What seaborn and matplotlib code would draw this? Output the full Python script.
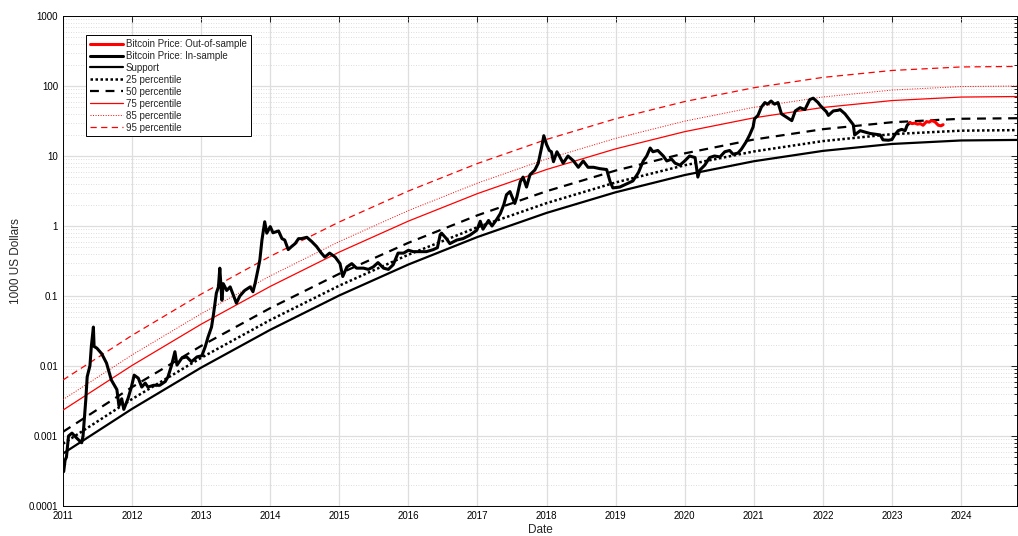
import matplotlib
matplotlib.use("Agg")
import matplotlib.pyplot as plt
import seaborn as sns
from matplotlib.ticker import FixedLocator, LogLocator, FuncFormatter, NullFormatter

# ---------------- data ----------------
in_years = [2011.01, 2011.03, 2011.05, 2011.07, 2011.08, 2011.13, 2011.17, 2011.20, 2011.27, 2011.29,
            2011.33, 2011.35, 2011.39, 2011.41, 2011.44, 2011.45, 2011.49, 2011.56, 2011.63, 2011.70,
            2011.78, 2011.81, 2011.85, 2011.88, 2011.94, 2011.99, 2012.03, 2012.09, 2012.14, 2012.19,
            2012.23, 2012.31, 2012.40, 2012.48, 2012.52, 2012.57, 2012.62, 2012.65, 2012.72, 2012.79,
            2012.86, 2012.94, 2013.01, 2013.06, 2013.10, 2013.15, 2013.18, 2013.22, 2013.25, 2013.27,
            2013.30, 2013.32, 2013.37, 2013.42, 2013.47, 2013.51, 2013.56, 2013.63, 2013.71, 2013.75,
            2013.78, 2013.83, 2013.85, 2013.88, 2013.92, 2013.95, 2014.00, 2014.04, 2014.12, 2014.17,
            2014.21, 2014.26, 2014.31, 2014.36, 2014.41, 2014.45, 2014.53, 2014.60, 2014.67, 2014.74,
            2014.79, 2014.86, 2014.94, 2015.01, 2015.05, 2015.11, 2015.18, 2015.25, 2015.35, 2015.42,
            2015.49, 2015.56, 2015.64, 2015.71, 2015.78, 2015.85, 2015.93, 2016.00, 2016.07, 2016.17,
            2016.26, 2016.36, 2016.42, 2016.46, 2016.48, 2016.55, 2016.60, 2016.70, 2016.79, 2016.89,
            2016.99, 2017.04, 2017.08, 2017.16, 2017.21, 2017.28, 2017.33, 2017.38, 2017.42, 2017.47,
            2017.54, 2017.57, 2017.62, 2017.66, 2017.71, 2017.76, 2017.83, 2017.88, 2017.93, 2017.96,
            2018.00, 2018.04, 2018.07, 2018.10, 2018.15, 2018.19, 2018.24, 2018.31, 2018.39, 2018.46,
            2018.53, 2018.60, 2018.68, 2018.77, 2018.87, 2018.92, 2018.96, 2019.06, 2019.16, 2019.25,
            2019.33, 2019.40, 2019.45, 2019.50, 2019.54, 2019.61, 2019.69, 2019.74, 2019.81, 2019.86,
            2019.93, 2020.00, 2020.07, 2020.15, 2020.19, 2020.22, 2020.29, 2020.36, 2020.43, 2020.51,
            2020.58, 2020.65, 2020.70, 2020.77, 2020.82, 2020.89, 2020.94, 2020.99, 2021.01, 2021.06,
            2021.11, 2021.16, 2021.20, 2021.25, 2021.30, 2021.35, 2021.40, 2021.47, 2021.55, 2021.60,
            2021.67, 2021.74, 2021.81, 2021.86, 2021.93, 2021.96, 2022.01, 2022.05, 2022.08, 2022.15,
            2022.22, 2022.25, 2022.32, 2022.37, 2022.44, 2022.46, 2022.54, 2022.61, 2022.68, 2022.75,
            2022.83, 2022.87, 2022.95, 2023.00, 2023.04, 2023.09, 2023.14, 2023.19, 2023.22, 2023.26]
in_price = [0.00031, 0.00045, 0.0005, 0.0008, 0.001, 0.0011, 0.001, 0.00093, 0.0008, 0.001,
            0.0033, 0.007, 0.0101, 0.019, 0.036, 0.019, 0.018, 0.015, 0.011, 0.0063,
            0.0046, 0.0027, 0.0034, 0.0024, 0.0034, 0.005, 0.0074, 0.0067, 0.005, 0.0057,
            0.005, 0.0053, 0.0053, 0.006, 0.007, 0.0101, 0.016, 0.0103, 0.013, 0.0135,
            0.0115, 0.0135, 0.014, 0.019, 0.026, 0.036, 0.056, 0.11, 0.135, 0.25,
            0.087, 0.15, 0.12, 0.135, 0.10, 0.079, 0.10, 0.12, 0.135, 0.115,
            0.15, 0.26, 0.33, 0.63, 1.15, 0.79, 0.98, 0.80, 0.85, 0.66,
            0.63, 0.46, 0.51, 0.56, 0.66, 0.66, 0.69, 0.60, 0.51, 0.41,
            0.36, 0.41, 0.36, 0.29, 0.19, 0.26, 0.29, 0.25, 0.25, 0.24,
            0.26, 0.30, 0.25, 0.24, 0.28, 0.41, 0.41, 0.45, 0.43, 0.43,
            0.43, 0.46, 0.49, 0.75, 0.79, 0.66, 0.56, 0.63, 0.66, 0.74,
            0.87, 1.17, 0.90, 1.20, 1.00, 1.25, 1.50, 2.00, 2.80, 3.10,
            2.10, 2.60, 4.30, 5.00, 3.60, 5.40, 6.30, 7.90, 13.5, 19.5,
            14.6, 12.0, 11.5, 8.3, 11.5, 9.8, 7.9, 10.0, 8.5, 6.9,
            8.5, 6.9, 6.9, 6.6, 6.4, 4.3, 3.5, 3.6, 4.0, 4.4,
            5.8, 8.5, 10.0, 13.0, 11.5, 12.0, 10.0, 8.5, 9.0, 7.9,
            7.4, 8.5, 10.0, 9.5, 5.0, 6.3, 7.4, 9.5, 10.0, 9.7,
            11.5, 12.0, 10.6, 11.0, 12.5, 16.0, 20.0, 26.0, 34.0, 38.0,
            50.0, 58.0, 55.0, 61.0, 55.0, 58.0, 40.0, 36.0, 32.0, 44.0,
            49.0, 46.0, 64.0, 67.0, 58.0, 53.0, 47.0, 43.0, 38.0, 44.0,
            45.0, 46.0, 40.0, 34.5, 28.0, 20.0, 23.0, 22.0, 21.0, 20.5,
            20.0, 17.0, 16.8, 17.2, 20.0, 23.0, 24.0, 23.0, 27.5, 30.0]

out_years = [2023.26, 2023.29, 2023.33, 2023.37, 2023.41, 2023.45, 2023.50, 2023.54, 2023.57,
             2023.62, 2023.67, 2023.71, 2023.74]
out_price = [30.0, 29.0, 29.5, 28.5, 29.0, 27.5, 31.0, 30.5, 32.0, 31.0, 27.5, 27.0, 28.0]

curve_years = [2011, 2012, 2013, 2014, 2015, 2016, 2017, 2018, 2019, 2020, 2021, 2022, 2023, 2024, 2024.85]
support = [0.000562, 0.002443, 0.009484, 0.03289, 0.1019, 0.2818, 0.6966, 1.538, 3.034, 5.346,
           8.414, 11.83, 14.86, 16.67, 16.98]
pct25 = [0.000776, 0.003373, 0.01309, 0.04539, 0.1406, 0.3890, 0.9616, 2.123, 4.188, 7.379,
         11.61, 16.33, 20.51, 23.01, 23.44]
pct50 = [0.001148, 0.004989, 0.01936, 0.06714, 0.2080, 0.5754, 1.422, 3.141, 6.194, 10.91,
         17.18, 24.15, 30.34, 34.04, 34.67]
pct75 = [0.002344, 0.01019, 0.03954, 0.1371, 0.4246, 1.175, 2.904, 6.412, 12.65, 22.28,
         35.08, 49.32, 61.94, 69.50, 70.79]
pct85 = [0.003311, 0.01439, 0.05585, 0.1936, 0.5998, 1.660, 4.102, 9.057, 17.86, 31.48,
         49.55, 69.66, 87.50, 98.17, 100.0]
pct95 = [0.006310, 0.02742, 0.1064, 0.3690, 1.143, 3.162, 7.816, 17.26, 34.04, 59.98,
         94.41, 132.7, 166.7, 187.1, 190.5]

year_ticks = list(range(2011, 2025))
y_ticks = [0.0001, 0.001, 0.01, 0.1, 1, 10, 100, 1000]

# ---------------- figure ----------------
sns.set_theme(style="white")
plt.rcParams["font.family"] = ["Liberation Sans", "DejaVu Sans"]

fig = plt.figure(figsize=(10.18, 5.36), dpi=100)
ax = fig.add_axes([63 / 1018, 30 / 536, 954 / 1018, 490 / 536])

kw = dict(ax=ax, estimator=None, sort=False)
sns.lineplot(x=out_years, y=out_price, color="red", lw=2.2, label="Bitcoin Price: Out-of-sample", zorder=6, **kw)
sns.lineplot(x=in_years, y=in_price, color="black", lw=2.2, label="Bitcoin Price: In-sample", zorder=5, **kw)
sns.lineplot(x=curve_years, y=support, color="black", lw=1.6, label="Support", zorder=4, **kw)
sns.lineplot(x=curve_years, y=pct25, color="black", lw=1.8, label="25 percentile", zorder=4, **kw)
sns.lineplot(x=curve_years, y=pct50, color="black", lw=1.6, label="50 percentile", zorder=4, **kw)
sns.lineplot(x=curve_years, y=pct75, color="red", lw=0.9, label="75 percentile", zorder=3, **kw)
sns.lineplot(x=curve_years, y=pct85, color="red", lw=0.7, label="85 percentile", zorder=3, **kw)
sns.lineplot(x=curve_years, y=pct95, color="red", lw=0.9, label="95 percentile", zorder=3, **kw)

lines = ax.get_lines()
lines[3].set_dashes((1.0, 1.0))
lines[4].set_dashes((4.0, 3.0))
lines[6].set_dashes((1.0, 1.6))
lines[7].set_dashes((5.0, 3.5))

ax.set_yscale("log")
ax.set_xlim(2011, 2024.81)
ax.set_ylim(1e-4, 1e3)

ax.xaxis.set_major_locator(FixedLocator(year_ticks))
ax.xaxis.set_major_formatter(FuncFormatter(lambda v, p: f"{int(round(v))}"))
ax.yaxis.set_major_locator(FixedLocator(y_ticks))
ax.yaxis.set_major_formatter(FuncFormatter(lambda v, p: f"{v:g}"))
ax.yaxis.set_minor_locator(LogLocator(base=10, subs=[2, 3, 4, 5, 6, 7, 8, 9], numticks=20))
ax.yaxis.set_minor_formatter(NullFormatter())

ax.tick_params(which="both", direction="in", top=True, right=True, colors="black", labelsize=7, width=0.6)
ax.tick_params(which="major", length=4)
ax.tick_params(which="minor", length=2)
ax.tick_params(axis="x", which="minor", bottom=False, top=False)

ax.grid(which="major", axis="both", color="#dedede", lw=0.9, linestyle="-")
ax.grid(which="minor", axis="y", color="#d4d4d4", lw=0.6, linestyle=(0, (1, 2)))
ax.set_axisbelow(True)

for s in ax.spines.values():
    s.set_color("black")
    s.set_linewidth(0.7)

ax.set_xlabel("Date", fontsize=8.5, color="#262626", labelpad=2)
ax.set_ylabel("1000 US Dollars", fontsize=8.5, color="#262626", labelpad=5)

leg = ax.legend(loc="upper left", bbox_to_anchor=(0.024, 0.961), borderaxespad=0, fontsize=7,
                handlelength=3.4, handletextpad=0.3, labelspacing=0.2, borderpad=0.4,
                frameon=True, fancybox=False, edgecolor="black", framealpha=1)
leg.get_frame().set_linewidth(0.7)

fig.savefig("out.png", dpi=100)
